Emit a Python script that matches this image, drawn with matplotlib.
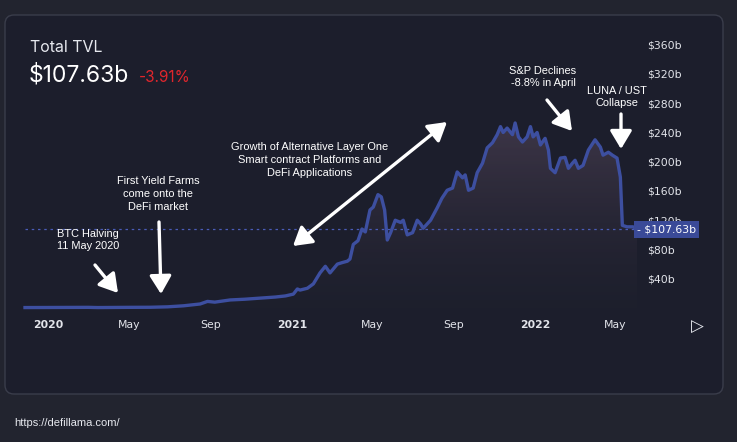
import numpy as np
import pandas as pd
import matplotlib
matplotlib.use("Agg")
import matplotlib.pyplot as plt
import matplotlib.dates as mdates
from matplotlib.patches import FancyBboxPatch
from matplotlib.transforms import IdentityTransform, blended_transform_factory

# data (Total Value Locked, $ billions)
dates = ["2019-11-27", "2020-01-01", "2020-03-01", "2020-03-15", "2020-05-01", "2020-06-02",
         "2020-06-28", "2020-07-22", "2020-08-16", "2020-08-27", "2020-09-07", "2020-09-30",
         "2020-10-22", "2020-11-14", "2020-12-07", "2020-12-22", "2021-01-03", "2021-01-09",
         "2021-01-13", "2021-01-24", "2021-02-02", "2021-02-12", "2021-02-20", "2021-02-27",
         "2021-03-10", "2021-03-17", "2021-03-25", "2021-03-29", "2021-04-03", "2021-04-10",
         "2021-04-16", "2021-04-21", "2021-04-28", "2021-05-03", "2021-05-10", "2021-05-15",
         "2021-05-20", "2021-05-24", "2021-05-29", "2021-06-05", "2021-06-13", "2021-06-17",
         "2021-06-23", "2021-07-01", "2021-07-08", "2021-07-13", "2021-07-17", "2021-07-28",
         "2021-08-07", "2021-08-14", "2021-08-22", "2021-08-30", "2021-09-06", "2021-09-14",
         "2021-09-18", "2021-09-23", "2021-09-30", "2021-10-06", "2021-10-14", "2021-10-21",
         "2021-10-29", "2021-11-05", "2021-11-10", "2021-11-14", "2021-11-20", "2021-11-28",
         "2021-12-02", "2021-12-07", "2021-12-13", "2021-12-20", "2021-12-25", "2021-12-29",
         "2022-01-04", "2022-01-09", "2022-01-16", "2022-01-21", "2022-01-24", "2022-01-31",
         "2022-02-08", "2022-02-15", "2022-02-20", "2022-02-26", "2022-03-02", "2022-03-07",
         "2022-03-14", "2022-03-22", "2022-04-01", "2022-04-09", "2022-04-13", "2022-04-21",
         "2022-04-27", "2022-05-04", "2022-05-09", "2022-05-12", "2022-05-19", "2022-05-28",
         "2022-06-03"]
tvl = [0.6, 0.7, 0.9, 0.6, 0.9, 1.0,
       1.6, 3.0, 5.5, 9.0, 8.0, 11.0,
       12.0, 13.5, 15.0, 16.5, 19.0, 26.0,
       24.5, 27.0, 33.0, 48.0, 57.0, 48.0,
       60.0, 62.0, 64.0, 67.0, 87.0, 92.0,
       108.0, 104.0, 134.0, 138.0, 155.0, 152.0,
       134.0, 93.0, 103.0, 120.0, 117.0, 120.0,
       100.0, 103.0, 120.0, 115.0, 109.0, 120.0,
       137.0, 150.0, 161.0, 164.0, 186.0, 178.0,
       182.0, 161.0, 164.0, 185.0, 198.0, 219.0,
       226.0, 237.0, 248.0, 240.0, 246.0, 237.0,
       253.0, 234.0, 227.0, 234.0, 248.0, 234.0,
       240.0, 223.0, 232.0, 216.0, 191.0, 185.0,
       205.0, 206.0, 191.0, 198.0, 202.0, 191.0,
       195.0, 216.0, 230.0, 220.0, 209.0, 213.0,
       209.0, 205.0, 179.0, 113.0, 111.0, 111.0,
       107.63]

y_ticks = [40, 80, 120, 160, 200, 240, 280, 320, 360]
x_ticks = ["2020-01-01", "2020-05-01", "2020-09-01", "2021-01-01",
           "2021-05-01", "2021-09-01", "2022-01-01", "2022-05-01"]
x_labels = ["2020", "May", "Sep", "2021", "May", "Sep", "2022", "May"]

W, H = 737, 442
OUTER = "#22242f"
CARD = "#1c1e2c"
LINE = "#3d4fa0"
TXT = "#e2e4ea"

x = pd.to_datetime(dates)
xn = mdates.date2num(x)

fig = plt.figure(figsize=(W / 100, H / 100), dpi=100, facecolor=OUTER)


def fp(px, py):
    # pixel (from top-left) -> figure fraction
    return (px / W, 1 - py / H)


card = FancyBboxPatch((5, H - 394), 718, 379, boxstyle="round,pad=0,rounding_size=9",
                      transform=IdentityTransform(), facecolor=CARD,
                      edgecolor="#3a3d4b", linewidth=1.0, zorder=-5)
fig.patches.append(card)

ax = fig.add_axes([25 / W, (H - 308) / H, 612 / W, 380 * 0.7313 / H])
ax.set_facecolor("none")
ax.set_xlim(xn[0], xn[-1])
ax.set_ylim(0, 380)

# gradient area under the line
fill = ax.fill_between(xn, tvl, 0, color="none", lw=0)
top = np.array([0.245, 0.215, 0.285])
bot = np.array([0.125, 0.13, 0.18])
t = np.linspace(0, 1, 256)
img = np.zeros((256, 2, 4))
img[:, :, :3] = (bot + (top - bot) * t[:, None])[:, None, :]
img[:, :, 3] = (0.35 + 0.65 * t)[:, None]
gi = ax.imshow(img, extent=[xn[0], xn[-1], 0, max(tvl)], origin="lower",
               aspect="auto", zorder=1, interpolation="bilinear")
gi.set_clip_path(fill.get_paths()[0], transform=ax.transData)

ax.plot(xn, tvl, color=LINE, lw=2.4, zorder=3, clip_on=False, solid_joinstyle="round")
ax.axhline(tvl[-1], color="#4a5cb8", lw=0.9, ls=(0, (2, 3)), zorder=2)

for s in ax.spines.values():
    s.set_visible(False)

ax.yaxis.tick_right()
ax.set_yticks(y_ticks)
ax.set_yticklabels([f"${v}b" for v in y_ticks])
ax.tick_params(axis="y", length=0, pad=7, labelsize=7.8, labelcolor=TXT)
ax.set_xticks(mdates.date2num(pd.to_datetime(x_ticks)))
ax.set_xticklabels(x_labels)
ax.tick_params(axis="x", length=0, pad=9, labelsize=7.8, labelcolor=TXT)
for lab in ax.get_xticklabels():
    if lab.get_text().isdigit():
        lab.set_fontweight("bold")

# last value tag on the price scale
tr = blended_transform_factory(ax.transAxes, ax.transData)
ax.text(1.0, tvl[-1], f"- ${tvl[-1]:.2f}b", transform=tr, ha="left", va="center",
        fontsize=7.8, color="white", zorder=10, clip_on=False,
        bbox=dict(boxstyle="square,pad=0.3", facecolor="#3a4a98", edgecolor="none"))

# header
fig.text(*fp(30, 48), "Total TVL", fontsize=11.5, color="#e6e8ee", family="Inter",
         va="center", ha="left")
fig.text(*fp(29, 75), "$107.63b", fontsize=16.5, color="white", family="Inter",
         va="center", ha="left")
fig.text(*fp(139, 77), "-3.91%", fontsize=11, color="#e0262c", family="Inter",
         va="center", ha="left")

# annotations
akw = dict(fontsize=7.9, color="white", family="Liberation Sans", ha="center",
           va="center", linespacing=1.35)
fig.text(*fp(88, 240), "BTC Halving\n11 May 2020", **akw)
fig.text(*fp(158, 194), "First Yield Farms\ncome onto the\nDeFi market", **akw)
fig.text(*fp(310, 160), "Growth of Alternative Layer One\nSmart contract Platforms and\nDeFi Applications", **akw)
fig.text(*fp(543, 77), "S&P Declines\n-8.8% in April", **akw)
fig.text(*fp(617, 97), "LUNA / UST\nCollapse", **akw)

arrow = dict(arrowstyle="-|>,head_length=0.55,head_width=0.33", color="white",
             lw=2.4, mutation_scale=20, shrinkA=0, shrinkB=0)
dbl = dict(arrow, arrowstyle="<|-|>,head_length=0.55,head_width=0.33")
for (x0, y0), (x1, y1), st in [((95, 265), (118, 293), arrow),
                               ((159, 222), (161, 294), arrow),
                               ((293, 246), (447, 122), dbl),
                               ((547, 100), (572, 131), arrow),
                               ((621, 114), (621, 149), arrow)]:
    ax.annotate("", xy=fp(x1, y1), xytext=fp(x0, y0), xycoords="figure fraction",
                textcoords="figure fraction", arrowprops=st, annotation_clip=False)

fig.text(*fp(697, 327), "\u25b7", fontsize=12, color="#e6e8ee", ha="center", va="center")
fig.text(*fp(14, 423), "https://defillama.com/", fontsize=8, color="#e6e8ee",
         family="Liberation Sans", ha="left", va="center")

fig.savefig("out.png", dpi=100, facecolor=OUTER)
